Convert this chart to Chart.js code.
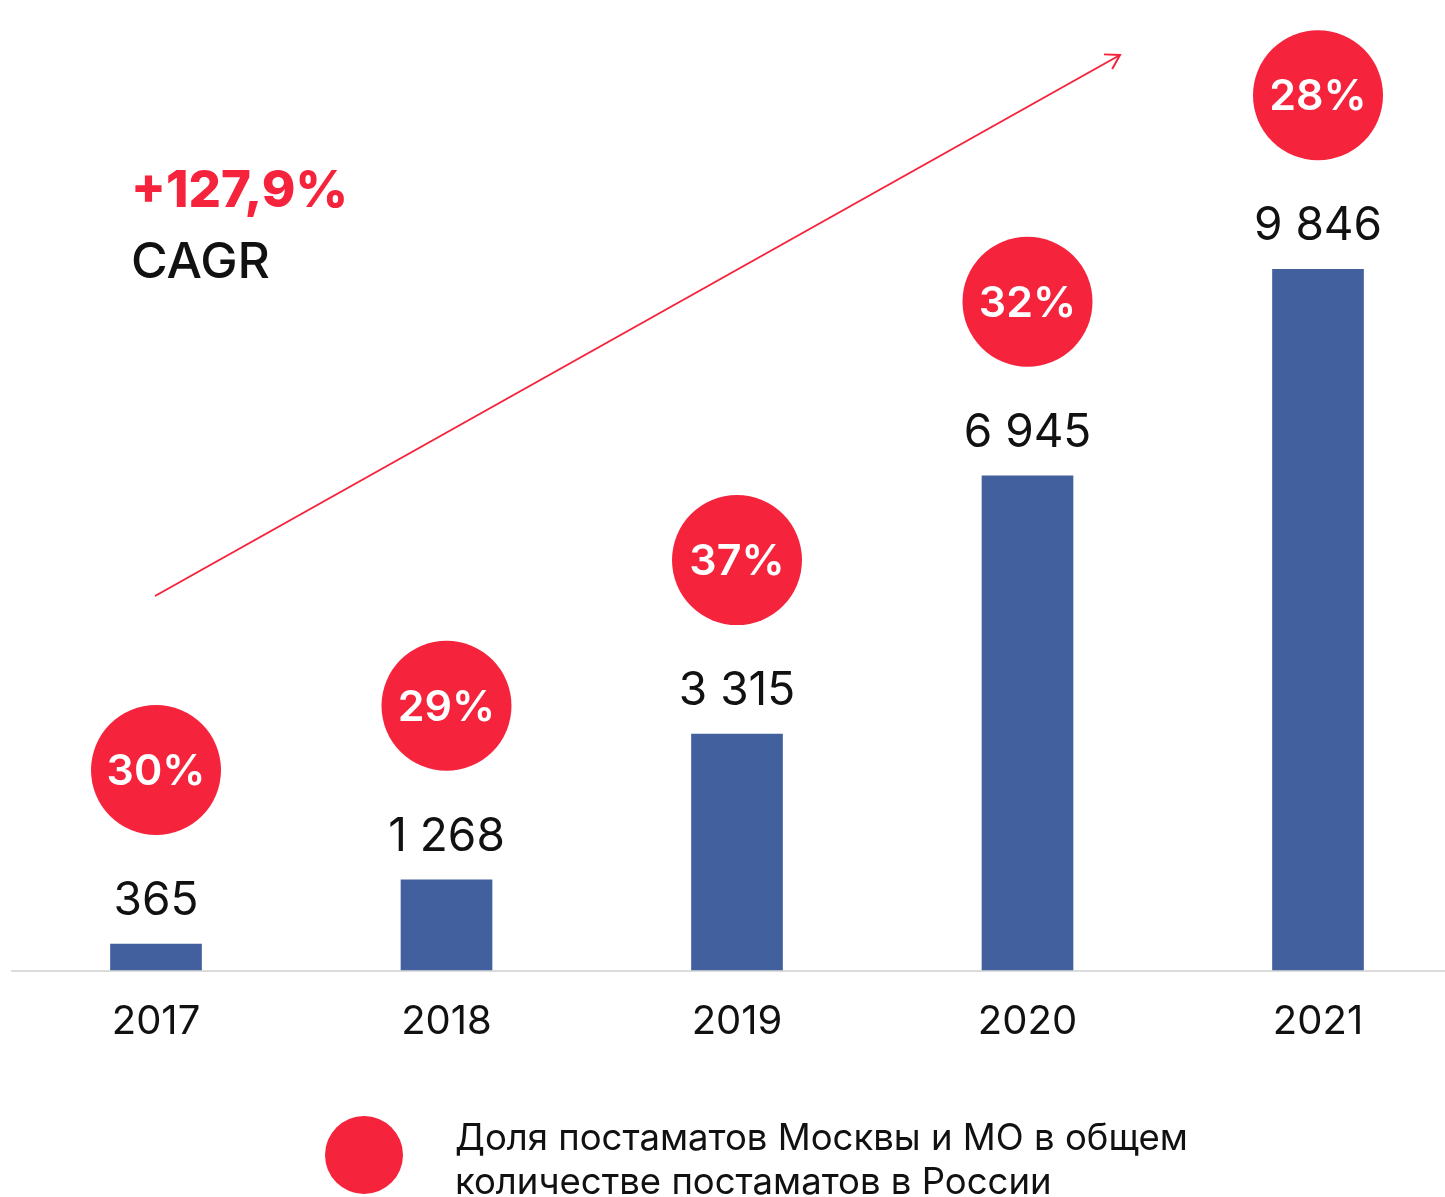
<!DOCTYPE html>
<html>
<head>
<meta charset="utf-8">
<script src="https://cdn.jsdelivr.net/npm/chart.js@4.4.1/dist/chart.umd.min.js"></script>
<style>
  html, body { margin: 0; padding: 0; background: #fff; }
  #wrap { position: relative; width: 1445px; height: 1197px; }
</style>
</head>
<body>
<div id="wrap"><canvas id="barChart"></canvas></div>
<script>
var years = ['2017', '2018', '2019', '2020', '2021'];
var postamaty = [365, 1268, 3315, 6945, 9846];
var doliaMoskvy = [30, 29, 37, 32, 28];
var cagrText = '+127,9%';
var legendLines = ['Доля постаматов Москвы и МО в общем', 'количестве постаматов в России'];

var RED = '#F5233C';
var BLUE = '#42609E';
var FONT = 'Inter, "Noto Sans", sans-serif';

function fmt(v) {
    return String(v).replace(/\B(?=(\d{3})+(?!\d))/g, ' ');
}

var baselinePlugin = {
    id: 'baseline',
    beforeDatasetsDraw: function (chart) {
        var ctx = chart.ctx;
        var y0 = chart.scales.y.getPixelForValue(0) + 1;
        ctx.save();
        ctx.strokeStyle = '#dcdcdc';
        ctx.lineWidth = 2;
        ctx.beginPath();
        ctx.moveTo(11, y0);
        ctx.lineTo(chart.width, y0);
        ctx.stroke();
        ctx.restore();
    }
};

var labelsPlugin = {
    id: 'labels',
    afterDatasetsDraw: function (chart) {
        var ctx = chart.ctx;
        var meta = chart.getDatasetMeta(0);
        ctx.save();
        ctx.textAlign = 'center';
        ctx.textBaseline = 'middle';
        meta.data.forEach(function (bar, i) {
            // waarde boven de balk
            ctx.fillStyle = '#111';
            ctx.font = '46px ' + FONT;
            ctx.fillText(fmt(postamaty[i]), bar.x, bar.y - 43);
            // rode cirkel met aandeel
            ctx.fillStyle = RED;
            ctx.beginPath();
            ctx.arc(bar.x, bar.y - 174, 65, 0, Math.PI * 2);
            ctx.fill();
            ctx.fillStyle = '#fff';
            ctx.font = '600 43px ' + FONT;
            ctx.fillText(doliaMoskvy[i] + '%', bar.x, bar.y - 172);
        });

        // CAGR pijl
        ctx.strokeStyle = RED;
        ctx.lineWidth = 2;
        var x1 = 155, y1 = 596, x2 = 1120, y2 = 55;
        ctx.beginPath();
        ctx.moveTo(x1, y1);
        ctx.lineTo(x2, y2);
        ctx.stroke();
        var ang = Math.atan2(y2 - y1, x2 - x1);
        ctx.beginPath();
        ctx.moveTo(x2 - 16 * Math.cos(ang - 0.55), y2 - 16 * Math.sin(ang - 0.55));
        ctx.lineTo(x2, y2);
        ctx.lineTo(x2 - 16 * Math.cos(ang + 0.55), y2 - 16 * Math.sin(ang + 0.55));
        ctx.stroke();

        ctx.textAlign = 'left';
        ctx.fillStyle = RED;
        ctx.font = '800 51px ' + FONT;
        ctx.fillText(cagrText, 131, 192);
        ctx.fillStyle = '#111';
        ctx.font = '500 50px ' + FONT;
        ctx.fillText('CAGR', 131, 263);

        // legenda
        ctx.fillStyle = RED;
        ctx.beginPath();
        ctx.arc(364, 1155, 39, 0, Math.PI * 2);
        ctx.fill();
        ctx.fillStyle = '#111';
        ctx.font = '36.5px ' + FONT;
        ctx.fillText(legendLines[0], 455, 1139);
        ctx.fillText(legendLines[1], 455, 1183);
        ctx.restore();
    }
};

var ctx = document.getElementById('barChart').getContext('2d');
var barChart = new Chart(ctx, {
    type: 'bar',
    data: {
        labels: years,
        datasets: [{
            label: 'Постаматы',
            data: postamaty,
            backgroundColor: BLUE,
            barThickness: 91,
            clip: false
        }]
    },
    options: {
        responsive: true,
        maintainAspectRatio: false,
        animation: false,
        layout: {
            padding: { left: 156, right: 127, top: 116, bottom: 0 }
        },
        plugins: {
            legend: { display: false },
            tooltip: { enabled: false }
        },
        scales: {
            x: {
                offset: false,
                grid: { display: false, drawTicks: false },
                border: { display: false },
                ticks: {
                    color: '#111',
                    font: { family: FONT, size: 40 },
                    padding: 28,
                    maxRotation: 0
                },
                afterFit: function (scale) {
                    scale.height = 227;
                }
            },
            y: {
                display: false,
                min: 0,
                max: 12000
            }
        }
    },
    plugins: [baselinePlugin, labelsPlugin]
});
</script>
</body>
</html>
